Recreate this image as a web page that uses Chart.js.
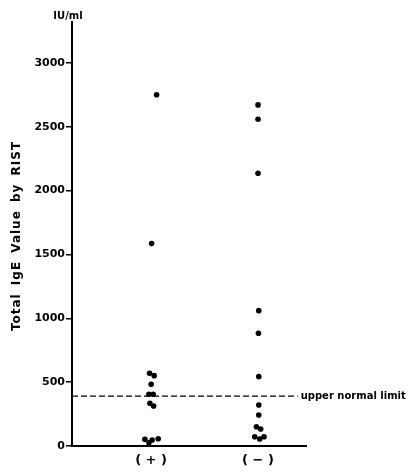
<!DOCTYPE html>
<html>
<head>
<meta charset="utf-8">
<script src="https://cdn.jsdelivr.net/npm/chart.js@4/dist/chart.umd.min.js"></script>
<style>
  html, body { margin: 0; padding: 0; background: #fff; }
  #wrap { width: 410px; height: 472px; position: relative; }
</style>
</head>
<body>
<div id="wrap"><canvas id="chart" width="410" height="472"></canvas></div>
<script>
// ---- data ----
const groupLabels = ['( + )', '( − )'];
const groupPos = [1, 2];
const yTicks = [0, 500, 1000, 1500, 2000, 2500, 3000];

// RIST (+) group
const posValues = [2750, 1585, 569, 551, 483, 405, 405, 335, 313, 52, 26, 47, 57];
const posX = [1.052, 1.005, 0.986, 1.029, 1.001, 0.980, 1.020, 0.989, 1.024, 0.942, 0.980, 1.010, 1.067];

// RIST (-) group
const negValues = [2671, 2559, 2136, 1060, 883, 543, 321, 243, 151, 133, 73, 55, 73];
const negX = [2.001, 2.001, 2.001, 2.008, 2.005, 2.008, 2.008, 2.008, 1.986, 2.026, 1.970, 2.017, 2.057];

const upperLimit = 390;
const limitX = [0.26, 2.372];

const yTitle = 'Total IgE Value by RIST';
const unitLabel = 'IU/ml';
const limitLabel = 'upper normal limit';

const FONT = "'DejaVu Sans', sans-serif";

// extra text: unit above axis, rotated y title, limit label
const annotate = {
  id: 'annotate',
  afterDraw(chart) {
    const c = chart.ctx;
    const xs = chart.scales.x, ys = chart.scales.y;
    c.save();
    c.fillStyle = '#000';

    c.font = 'bold 10px ' + FONT;
    c.textAlign = 'center';
    c.textBaseline = 'middle';
    c.fillText(unitLabel, chart.chartArea.left - 4, 16);

    c.textAlign = 'left';
    c.fillText(limitLabel, xs.getPixelForValue(limitX[1]) + 3, ys.getPixelForValue(upperLimit));

    c.translate(17, 236);
    c.rotate(-Math.PI / 2);
    c.font = 'bold 12px ' + FONT;
    c.letterSpacing = '1px';
    c.wordSpacing = '3px';
    c.textAlign = 'center';
    c.fillText(yTitle, 0, 0);
    c.restore();
  }
};

new Chart(document.getElementById('chart'), {
  type: 'scatter',
  data: {
    datasets: [
      {
        data: posX.map((x, i) => ({ x: x, y: posValues[i] })),
        backgroundColor: '#000',
        borderWidth: 0,
        pointRadius: 2.8
      },
      {
        data: negX.map((x, i) => ({ x: x, y: negValues[i] })),
        backgroundColor: '#000',
        borderWidth: 0,
        pointRadius: 2.8
      },
      {
        type: 'line',
        data: limitX.map(x => ({ x: x, y: upperLimit })),
        borderColor: '#000',
        borderWidth: 1.2,
        borderDash: [6, 3],
        pointRadius: 0,
        fill: false
      }
    ]
  },
  options: {
    responsive: false,
    animation: false,
    layout: { padding: { left: 0, top: 22, right: 104, bottom: 0 } },
    plugins: { legend: { display: false }, tooltip: { enabled: false } },
    scales: {
      x: {
        type: 'linear',
        min: 0.26,
        max: 2.45,
        afterBuildTicks: s => { s.ticks = groupPos.map(v => ({ value: v })); },
        afterFit: s => { s.height = 26; },
        ticks: {
          color: '#000',
          font: { family: FONT, size: 13, weight: 'bold' },
          padding: 7,
          callback: v => groupLabels[groupPos.indexOf(v)] || ''
        },
        grid: { display: true, drawOnChartArea: false, drawTicks: false },
        border: { color: '#000', width: 2 }
      },
      y: {
        min: 0,
        max: 3320,
        afterBuildTicks: s => { s.ticks = yTicks.map(v => ({ value: v })); },
        afterFit: s => { s.width = 72; },
        ticks: {
          color: '#000',
          font: { family: FONT, size: 11, weight: 'bold' },
          padding: 1,
          callback: v => String(v)
        },
        grid: { drawOnChartArea: false, tickLength: 6, color: '#000', lineWidth: 1.5 },
        border: { color: '#000', width: 2 }
      }
    }
  },
  plugins: [annotate]
});
</script>
</body>
</html>
